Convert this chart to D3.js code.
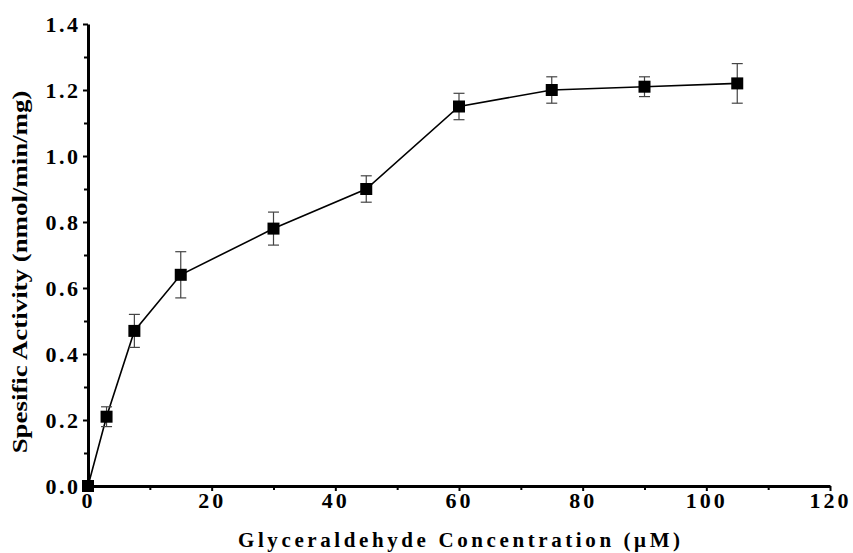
<!DOCTYPE html>
<html>
<head>
<meta charset="utf-8">
<script src="https://cdn.jsdelivr.net/npm/d3@7"></script>
<style>
  body { margin: 0; background: #fff; }
  svg text { font-family: "Liberation Serif", "Times New Roman", serif; font-weight: bold; fill: #000; }
</style>
</head>
<body>
<div id="chart"></div>
<script>
// glyceraldehyde concentration (uM)
const concentration = [0, 3, 7.5, 15, 30, 45, 60, 75, 90, 105];
// specific activity (nmol/min/mg)
const activity = [0, 0.21, 0.47, 0.64, 0.78, 0.90, 1.15, 1.20, 1.21, 1.22];
const activityErr = [0, 0.03, 0.05, 0.07, 0.05, 0.04, 0.04, 0.04, 0.03, 0.06];
const xTicks = [0, 20, 40, 60, 80, 100, 120];
const yTicks = [0.0, 0.2, 0.4, 0.6, 0.8, 1.0, 1.2, 1.4];

const width = 853, height = 553;
const margin = { top: 24, right: 23, bottom: 67, left: 88 };

const svg = d3.select('#chart').append('svg')
  .attr('width', width)
  .attr('height', height);

const x = d3.scaleLinear()
  .domain([0, 120])
  .range([margin.left, width - margin.right]);
const y = d3.scaleLinear()
  .domain([0, 1.4])
  .range([height - margin.bottom, margin.top]);

const data = concentration.map((c, i) => ({ c: c, v: activity[i], e: activityErr[i] }));

// minor ticks
svg.append('g')
  .attr('transform', 'translate(0,' + y(0) + ')')
  .call(d3.axisBottom(x).tickValues(d3.range(10, 120, 20)).tickSize(4).tickFormat(''))
  .call(g => g.select('.domain').remove())
  .call(g => g.selectAll('line').attr('stroke-width', 2));
svg.append('g')
  .attr('transform', 'translate(' + x(0) + ',0)')
  .call(d3.axisLeft(y).tickValues(d3.range(0.1, 1.4, 0.2)).tickSize(4).tickFormat(''))
  .call(g => g.select('.domain').remove())
  .call(g => g.selectAll('line').attr('stroke-width', 2));

// x axis
const xAxis = svg.append('g')
  .attr('transform', 'translate(0,' + y(0) + ')')
  .call(d3.axisBottom(x).tickValues(xTicks).tickSize(5).tickSizeOuter(0).tickPadding(1).tickFormat(d3.format('d')));
xAxis.select('.domain').attr('stroke-width', 3);
xAxis.selectAll('line').attr('stroke-width', 2);
xAxis.selectAll('text')
  .style('font-size', '22px')
  .style('letter-spacing', '3px');

// y axis
const yAxis = svg.append('g')
  .attr('transform', 'translate(' + x(0) + ',0)')
  .call(d3.axisLeft(y).tickValues(yTicks).tickSize(5).tickSizeOuter(0).tickPadding(2.5).tickFormat(d3.format('.1f')));
yAxis.select('.domain').attr('stroke-width', 3);
yAxis.selectAll('line').attr('stroke-width', 2);
yAxis.selectAll('text')
  .style('font-size', '22px')
  .style('letter-spacing', '2.5px');

// connecting line
svg.append('path')
  .datum(data)
  .attr('fill', 'none')
  .attr('stroke', '#000')
  .attr('stroke-width', 1.6)
  .attr('d', d3.line().x(d => x(d.c)).y(d => y(d.v)));

// error bars
const err = svg.append('g').attr('stroke', '#444').attr('stroke-width', 1.2);
data.filter(d => d.e > 0).forEach(d => {
  err.append('line')
    .attr('x1', x(d.c)).attr('x2', x(d.c))
    .attr('y1', y(d.v - d.e)).attr('y2', y(d.v + d.e));
  [d.v - d.e, d.v + d.e].forEach(v => {
    err.append('line')
      .attr('x1', x(d.c) - 5.5).attr('x2', x(d.c) + 5.5)
      .attr('y1', y(v)).attr('y2', y(v));
  });
});

// markers
svg.selectAll('.pt')
  .data(data)
  .enter().append('rect')
  .attr('class', 'pt')
  .attr('x', d => x(d.c) - 6)
  .attr('y', d => y(d.v) - 6)
  .attr('width', 12)
  .attr('height', 12)
  .attr('fill', '#000');

// axis titles
svg.append('text')
  .attr('x', 238)
  .attr('y', 547)
  .style('font-size', '21px')
  .style('letter-spacing', '3.6px')
  .text('Glyceraldehyde Concentration (μM)');

svg.append('text')
  .attr('transform', 'translate(27,272) rotate(-90) scale(1.28,1)')
  .attr('text-anchor', 'middle')
  .style('font-size', '21px')
  .text('Spesific Activity (nmol/min/mg)');
</script>
</body>
</html>
